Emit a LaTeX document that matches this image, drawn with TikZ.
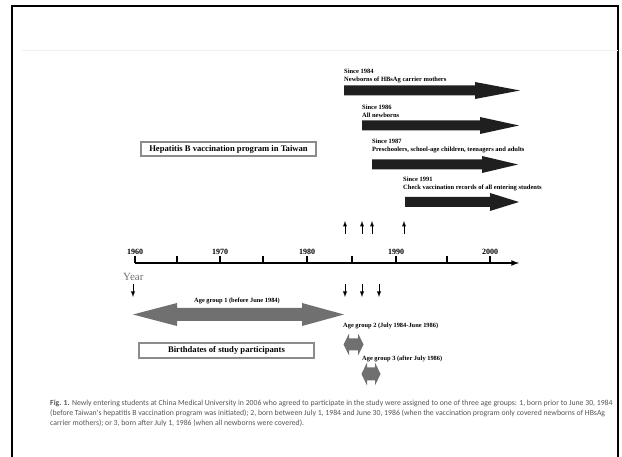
\documentclass[tikz,border=0pt]{standalone}
\usepackage{fontspec}
\setmainfont{Liberation Serif}
\newfontfamily\captionfont{Carlito}
\usepackage{tikz}
\usetikzlibrary{positioning}
\usetikzlibrary{arrows}
\definecolor{groupgray}{HTML}{707070}
\definecolor{boxgray}{HTML}{8C8C8C}
\definecolor{capgray}{HTML}{555555}
\tikzset{my_frame/.style={line width=2.5pt}}
\tikzset{my_axis/.style={->,>=latex,line width=1.6pt}}
\tikzset{my_tick/.style={line width=1.4pt}}
\tikzset{my_year/.style={font=\bfseries\fontsize{8}{9}\selectfont, inner sep=0pt, anchor=base}}
\tikzset{my_mark/.style={->,>=latex,line width=0.9pt}}
\tikzset{my_prog/.style={fill=black!88}}
\tikzset{my_group/.style={fill=groupgray}}
\tikzset{my_label/.style={font=\bfseries\fontsize{6.5}{7.8}\selectfont, inner sep=0pt, align=left}}
\tikzset{my_group_label/.style={font=\bfseries\fontsize{6.4}{7}\selectfont, inner sep=0pt}}
\tikzset{my_box/.style={draw=boxgray, line width=1.2pt, inner sep=0pt, minimum width=175pt, font=\bfseries\fontsize{8.6}{9}\selectfont}}
\tikzset{my_caption/.style={font=\captionfont\fontsize{7.75}{8}\selectfont, text=capgray, inner sep=0pt, anchor=base west}}

\begin{document}
\begin{tikzpicture}[x=1pt, y=-1pt]
    \useasboundingbox (0,0) rectangle (622,457);
    %\draw[help lines] (0,0) grid (622,457);
    \draw[my_frame] (12,470) -- (12,6) -- (618,6) -- (618,470);
    \draw[black!6, line width=0.8pt] (22,50) -- (618,50);

    % vaccination program
    \fill[my_prog] (344,85.5) -- (475,85.5) -- (475,82) -- (520,90.5) -- (475,99) -- (475,95.5) -- (344,95.5) -- cycle;
    \fill[my_prog] (362,120.5) -- (480,120.5) -- (480,117) -- (519,125.5) -- (480,134) -- (480,130.5) -- (362,130.5) -- cycle;
    \fill[my_prog] (372,159.5) -- (482,159.5) -- (482,156) -- (518,164.5) -- (482,173) -- (482,169.5) -- (372,169.5) -- cycle;
    \fill[my_prog] (405,197) -- (490,197) -- (490,193) -- (519,202) -- (490,211) -- (490,207) -- (405,207) -- cycle;
    \node[my_label, anchor=south west] (prog1) at (344,83) {Since 1984\\Newborns of HBsAg carrier mothers};
    \node[my_label, anchor=south west] (prog2) at (362,118) {Since 1986\\All newborns};
    \node[my_label, anchor=south west] (prog3) at (372,153) {Since 1987\\Preschoolers, school-age children, teenagers and adults};
    \node[my_label, anchor=south west] (prog4) at (403,191) {Since 1991\\Check vaccination records of all entering students};
    \node[my_box, minimum height=14pt] (program) at (228.5,149) {Hepatitis B vaccination program in Taiwan};

    % time line
    \coordinate (start) at (135,263);
    \coordinate (stop) at (519,263);
    \draw[my_axis] (start) -- (stop);
    \foreach \tx in {135,177,220,263,307,352,396,447,490}
        \draw[my_tick] (\tx,263.5) -- (\tx,256.5);
    \foreach \tx/\yr in {135/1960,220/1970,307/1980,396/1990,490/2000}
        \node[my_year] (y\yr) at (\tx,254.5) {\yr};
    \node[anchor=west, inner sep=0pt, text=groupgray, font=\fontsize{11}{12}\selectfont] (year) at (123,277) {Year};

    \foreach \ux [count=\i] in {345,362,372,404} {
        \coordinate (upa\i) at (\ux,234);
        \coordinate (upb\i) at (\ux,221);
        \draw[my_mark] (upa\i) -- (upb\i);
    }
    \foreach \dx [count=\i] in {133,345,362,379} {
        \coordinate (dna\i) at (\dx,284);
        \coordinate (dnb\i) at (\dx,297);
        \draw[my_mark] (dna\i) -- (dnb\i);
    }

    % age groups
    \fill[my_group] (133,314.5) -- (177,303) -- (177,308) -- (302,308) -- (302,303) -- (344,314.5) -- (302,326) -- (302,321) -- (177,321) -- (177,326) -- cycle;
    \fill[my_group] (343.5,344.5) -- (349,333.5) -- (349,338.5) -- (358,338.5) -- (358,333.5) -- (363.5,344.5) -- (358,355.5) -- (358,350.5) -- (349,350.5) -- (349,355.5) -- cycle;
    \fill[my_group] (361.5,374) -- (367,362.5) -- (367,367.5) -- (375,367.5) -- (375,362.5) -- (380.5,374) -- (375,385.5) -- (375,380.5) -- (367,380.5) -- (367,385.5) -- cycle;
    \node[my_group_label] (grp1) at (237,301) {Age group 1 (before June 1984)};
    \node[my_group_label, anchor=west] (grp2) at (343,326) {Age group 2 (July 1984-June 1986)};
    \node[my_group_label, anchor=west] (grp3) at (362,359) {Age group 3 (after July 1986)};
    \node[my_box, minimum height=15pt] (birth) at (226.5,350.5) {Birthdates of study participants};

    % caption
    \node[my_caption] (cap1) at (50,406) {\textbf{Fig. 1.} Newly entering students at China Medical University in 2006 who agreed to participate in the study were assigned to one of three age groups: 1, born prior to June 30, 1984};
    \node[my_caption] (cap2) at (50,415.5) {(before Taiwan's hepatitis B vaccination program was initiated); 2, born between July 1, 1984 and June 30, 1986 (when the vaccination program only covered newborns of HBsAg};
    \node[my_caption] (cap3) at (50,425) {carrier mothers); or 3, born after July 1, 1986 (when all newborns were covered).};
\end{tikzpicture}
\end{document}
